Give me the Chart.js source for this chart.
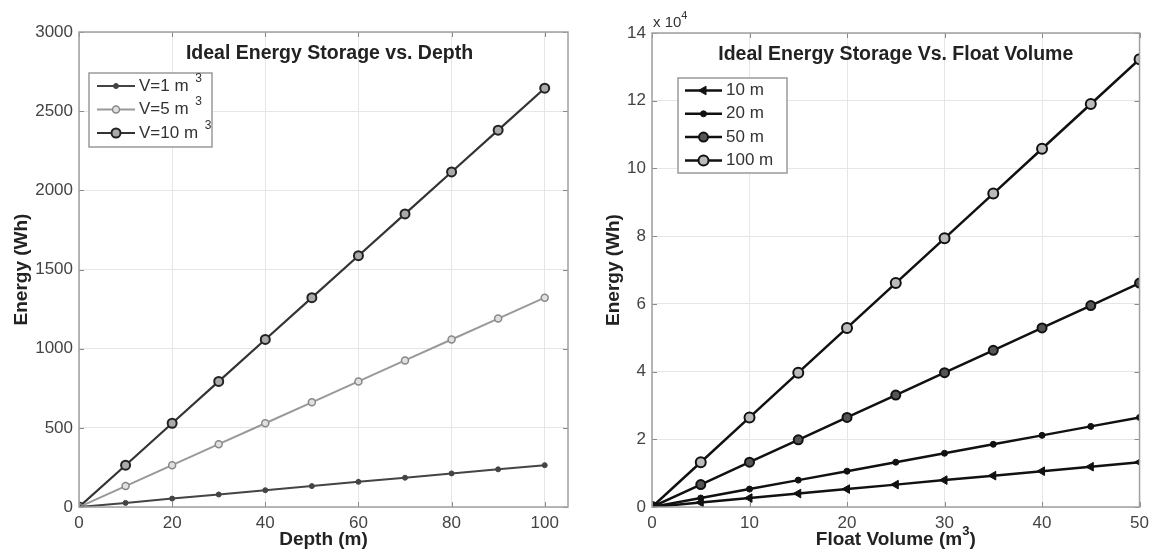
<!DOCTYPE html>
<html>
<head>
<meta charset="utf-8">
<script src="https://cdn.jsdelivr.net/npm/chart.js@4.4.1/dist/chart.umd.min.js"></script>
<style>
  body { margin: 0; background: #fff; }
  #wrap { position: relative; width: 1155px; height: 555px; }
  .box { position: absolute; top: 0; height: 555px; }
</style>
</head>
<body>
<div id="wrap">
  <div class="box" style="left:0;width:580px"><canvas id="depthChart"></canvas></div>
  <div class="box" style="left:580px;width:575px"><canvas id="volumeChart"></canvas></div>
</div>
<script>
// left plot: energy vs depth
const depth = [0, 10, 20, 30, 40, 50, 60, 70, 80, 90, 100];
const energyV1 = [0, 26, 53, 79, 106, 132, 159, 185, 212, 238, 264];
const energyV5 = [0, 132, 264, 397, 529, 661, 793, 926, 1058, 1190, 1322];
const energyV10 = [0, 264, 529, 793, 1058, 1322, 1587, 1851, 2116, 2380, 2645];
const depthLabels = ['V=1 m', 'V=5 m', 'V=10 m'];
const depthTicks = [0, 20, 40, 60, 80, 100];
const depthEnergyTicks = [0, 500, 1000, 1500, 2000, 2500, 3000];

// right plot: energy vs float volume (Wh)
const floatVolume = [0, 5, 10, 15, 20, 25, 30, 35, 40, 45, 50];
const energy10m = [0, 1320, 2650, 3970, 5290, 6610, 7940, 9260, 10580, 11900, 13230];
const energy20m = [0, 2650, 5290, 7940, 10580, 13230, 15870, 18520, 21160, 23810, 26450];
const energy50m = [0, 6610, 13230, 19840, 26450, 33060, 39680, 46290, 52900, 59510, 66130];
const energy100m = [0, 13230, 26450, 39680, 52900, 66130, 79350, 92580, 105800, 119030, 132250];
const volumeLabels = ['10 m', '20 m', '50 m', '100 m'];
const volumeTicks = [0, 10, 20, 30, 40, 50];
const volumeEnergyTicks = [0, 20000, 40000, 60000, 80000, 100000, 120000, 140000];

const FONT = '"Liberation Sans", Arial, Helvetica, sans-serif';

const toXY = (xs, ys) => xs.map((x, i) => ({ x: x, y: ys[i] }));
const fixTicks = vals => s => { s.ticks = vals.map(v => ({ value: v })); };

// text with optional superscript pieces
function setFont(ctx, p, size) {
    ctx.font = (p.bold ? 'bold ' : '') + (p.sup ? Math.round(size * 0.7) : size) + 'px ' + FONT;
}
function drawRich(ctx, parts, x, y, size, align) {
    let w = 0;
    parts.forEach(p => { setFont(ctx, p, size); w += ctx.measureText(p.t).width; });
    let cx = align === 'center' ? x - w / 2 : x;
    ctx.textAlign = 'left';
    ctx.textBaseline = 'middle';
    parts.forEach(p => {
        setFont(ctx, p, size);
        ctx.fillText(p.t, cx, p.sup ? y - size * 0.45 : y);
        cx += ctx.measureText(p.t).width;
    });
}

const framePlugin = {
    id: 'frame',
    afterDraw(chart, args, opts) {
        const ctx = chart.ctx;
        const a = chart.chartArea;
        const xs = chart.scales.x, ys = chart.scales.y;
        ctx.save();
        // inward ticks
        ctx.strokeStyle = '#8a8a8a';
        ctx.lineWidth = 1;
        ctx.beginPath();
        xs.ticks.forEach(t => {
            const px = Math.round(xs.getPixelForValue(t.value)) + 0.5;
            ctx.moveTo(px, a.bottom); ctx.lineTo(px, a.bottom - 5);
            ctx.moveTo(px, a.top); ctx.lineTo(px, a.top + 5);
        });
        ys.ticks.forEach(t => {
            const py = Math.round(ys.getPixelForValue(t.value)) + 0.5;
            ctx.moveTo(a.left, py); ctx.lineTo(a.left + 5, py);
            ctx.moveTo(a.right, py); ctx.lineTo(a.right - 5, py);
        });
        ctx.stroke();
        // axes box
        ctx.strokeStyle = '#a0a0a0';
        ctx.lineWidth = 1.5;
        ctx.strokeRect(a.left, a.top, a.right - a.left, a.bottom - a.top);

        // title inside plot
        ctx.fillStyle = '#222';
        drawRich(ctx, [{ t: opts.title, bold: true }], (a.left + a.right) / 2 + (opts.titleDx || 0), a.top + 22, 19.5, 'center');
        // x axis label
        drawRich(ctx, opts.xLabel, (a.left + a.right) / 2, 540, 19, 'center');
        // y axis label
        ctx.save();
        ctx.translate(opts.yLabelX, (a.top + a.bottom) / 2);
        ctx.rotate(-Math.PI / 2);
        drawRich(ctx, [{ t: 'Energy (Wh)', bold: true }], 0, 0, 19, 'center');
        ctx.restore();
        // exponent label
        if (opts.exponent) {
            ctx.fillStyle = '#333';
            drawRich(ctx, [{ t: 'x 10' }, { t: '4', sup: true }], a.left + 1, a.top - 10, 15, 'left');
        }

        // legend box
        const L = opts.legend;
        ctx.fillStyle = '#fff';
        ctx.fillRect(L.x, L.y, L.w, L.h);
        ctx.strokeStyle = '#9a9a9a';
        ctx.lineWidth = 1.5;
        ctx.strokeRect(L.x, L.y, L.w, L.h);
        chart.data.datasets.forEach((ds, i) => {
            const yy = L.y + L.first + i * L.rowH;
            const x0 = L.x + L.pad, x1 = x0 + L.lineLen;
            ctx.strokeStyle = ds.borderColor;
            ctx.lineWidth = ds.borderWidth;
            ctx.beginPath();
            ctx.moveTo(x0, yy); ctx.lineTo(x1, yy);
            ctx.stroke();
            ctx.fillStyle = ds.pointBackgroundColor;
            ctx.strokeStyle = ds.pointBorderColor;
            ctx.lineWidth = ds.pointBorderWidth;
            Chart.helpers.drawPoint(ctx, {
                pointStyle: ds.pointStyle,
                rotation: ds.pointRotation || 0,
                radius: ds.pointRadius,
                borderWidth: ds.pointBorderWidth
            }, (x0 + x1) / 2, yy);
            ctx.fillStyle = '#333';
            const parts = [{ t: ds.label }];
            if (L.sup) parts.push({ t: '  3', sup: true });
            drawRich(ctx, parts, x1 + 4, yy, 17, 'left');
        });
        ctx.restore();
    }
};

function axisOpts(min, max, tickVals, extra) {
    return Object.assign({
        type: 'linear',
        min: min,
        max: max,
        grid: { color: '#e6e6e6', lineWidth: 1, drawTicks: false },
        border: { display: false },
        afterBuildTicks: fixTicks(tickVals),
        ticks: {
            padding: 6,
            color: '#444',
            font: { family: FONT, size: 17 },
            callback: v => String(v)
        }
    }, extra);
}

new Chart(document.getElementById('depthChart'), {
    type: 'line',
    data: {
        datasets: [
            { label: depthLabels[0], data: toXY(depth, energyV1), borderColor: '#444', borderWidth: 2,
              pointStyle: 'circle', pointRadius: 2.5, pointBackgroundColor: '#444', pointBorderColor: '#444', pointBorderWidth: 1 },
            { label: depthLabels[1], data: toXY(depth, energyV5), borderColor: '#999', borderWidth: 2,
              pointStyle: 'circle', pointRadius: 3.5, pointBackgroundColor: '#e0e0e0', pointBorderColor: '#888', pointBorderWidth: 1.5 },
            { label: depthLabels[2], data: toXY(depth, energyV10), borderColor: '#333', borderWidth: 2.2,
              pointStyle: 'circle', pointRadius: 4.5, pointBackgroundColor: '#aaa', pointBorderColor: '#222', pointBorderWidth: 2 }
        ]
    },
    options: {
        responsive: true,
        maintainAspectRatio: false,
        animation: false,
        layout: { padding: { top: 32, right: 12, left: 0, bottom: 0 } },
        plugins: {
            legend: { display: false },
            tooltip: { enabled: false },
            frame: {
                title: 'Ideal Energy Storage vs. Depth',
                titleDx: 6,
                xLabel: [{ t: 'Depth (m)', bold: true }],
                yLabelX: 22,
                legend: { x: 89, y: 73, w: 123, h: 74, first: 13, rowH: 23.5, pad: 8, lineLen: 38, sup: true }
            }
        },
        scales: {
            x: axisOpts(0, 105, depthTicks, { afterFit: s => { s.height = 48; } }),
            y: axisOpts(0, 3000, depthEnergyTicks, { afterFit: s => { s.width = 79; } })
        }
    },
    plugins: [framePlugin]
});

new Chart(document.getElementById('volumeChart'), {
    type: 'line',
    data: {
        datasets: [
            { label: volumeLabels[0], data: toXY(floatVolume, energy10m), borderColor: '#111', borderWidth: 2.5,
              pointStyle: 'triangle', pointRotation: 270, pointRadius: 5, pointBackgroundColor: '#111', pointBorderColor: '#111', pointBorderWidth: 1 },
            { label: volumeLabels[1], data: toXY(floatVolume, energy20m), borderColor: '#111', borderWidth: 2.5,
              pointStyle: 'circle', pointRadius: 3, pointBackgroundColor: '#111', pointBorderColor: '#111', pointBorderWidth: 1 },
            { label: volumeLabels[2], data: toXY(floatVolume, energy50m), borderColor: '#111', borderWidth: 2.5,
              pointStyle: 'circle', pointRadius: 4.5, pointBackgroundColor: '#555', pointBorderColor: '#111', pointBorderWidth: 2 },
            { label: volumeLabels[3], data: toXY(floatVolume, energy100m), borderColor: '#111', borderWidth: 2.5,
              pointStyle: 'circle', pointRadius: 5, pointBackgroundColor: '#bbb', pointBorderColor: '#111', pointBorderWidth: 2 }
        ]
    },
    options: {
        responsive: true,
        maintainAspectRatio: false,
        animation: false,
        layout: { padding: { top: 33, right: 13, left: 0, bottom: 0 } },
        plugins: {
            legend: { display: false },
            tooltip: { enabled: false },
            frame: {
                title: 'Ideal Energy Storage Vs. Float Volume',
                titleDx: 0,
                xLabel: [{ t: 'Float Volume (m', bold: true }, { t: '3', bold: true, sup: true }, { t: ')', bold: true }],
                yLabelX: 34,
                exponent: true,
                legend: { x: 98, y: 78, w: 109, h: 95, first: 12.5, rowH: 23.3, pad: 7, lineLen: 37, sup: false }
            }
        },
        scales: {
            x: axisOpts(0, 50, volumeTicks, { afterFit: s => { s.height = 48; } }),
            y: axisOpts(0, 140000, volumeEnergyTicks, {
                afterFit: s => { s.width = 72; },
                ticks: {
                    padding: 6,
                    color: '#444',
                    font: { family: FONT, size: 17 },
                    callback: v => String(v / 10000)
                }
            })
        }
    },
    plugins: [framePlugin]
});
</script>
</body>
</html>
